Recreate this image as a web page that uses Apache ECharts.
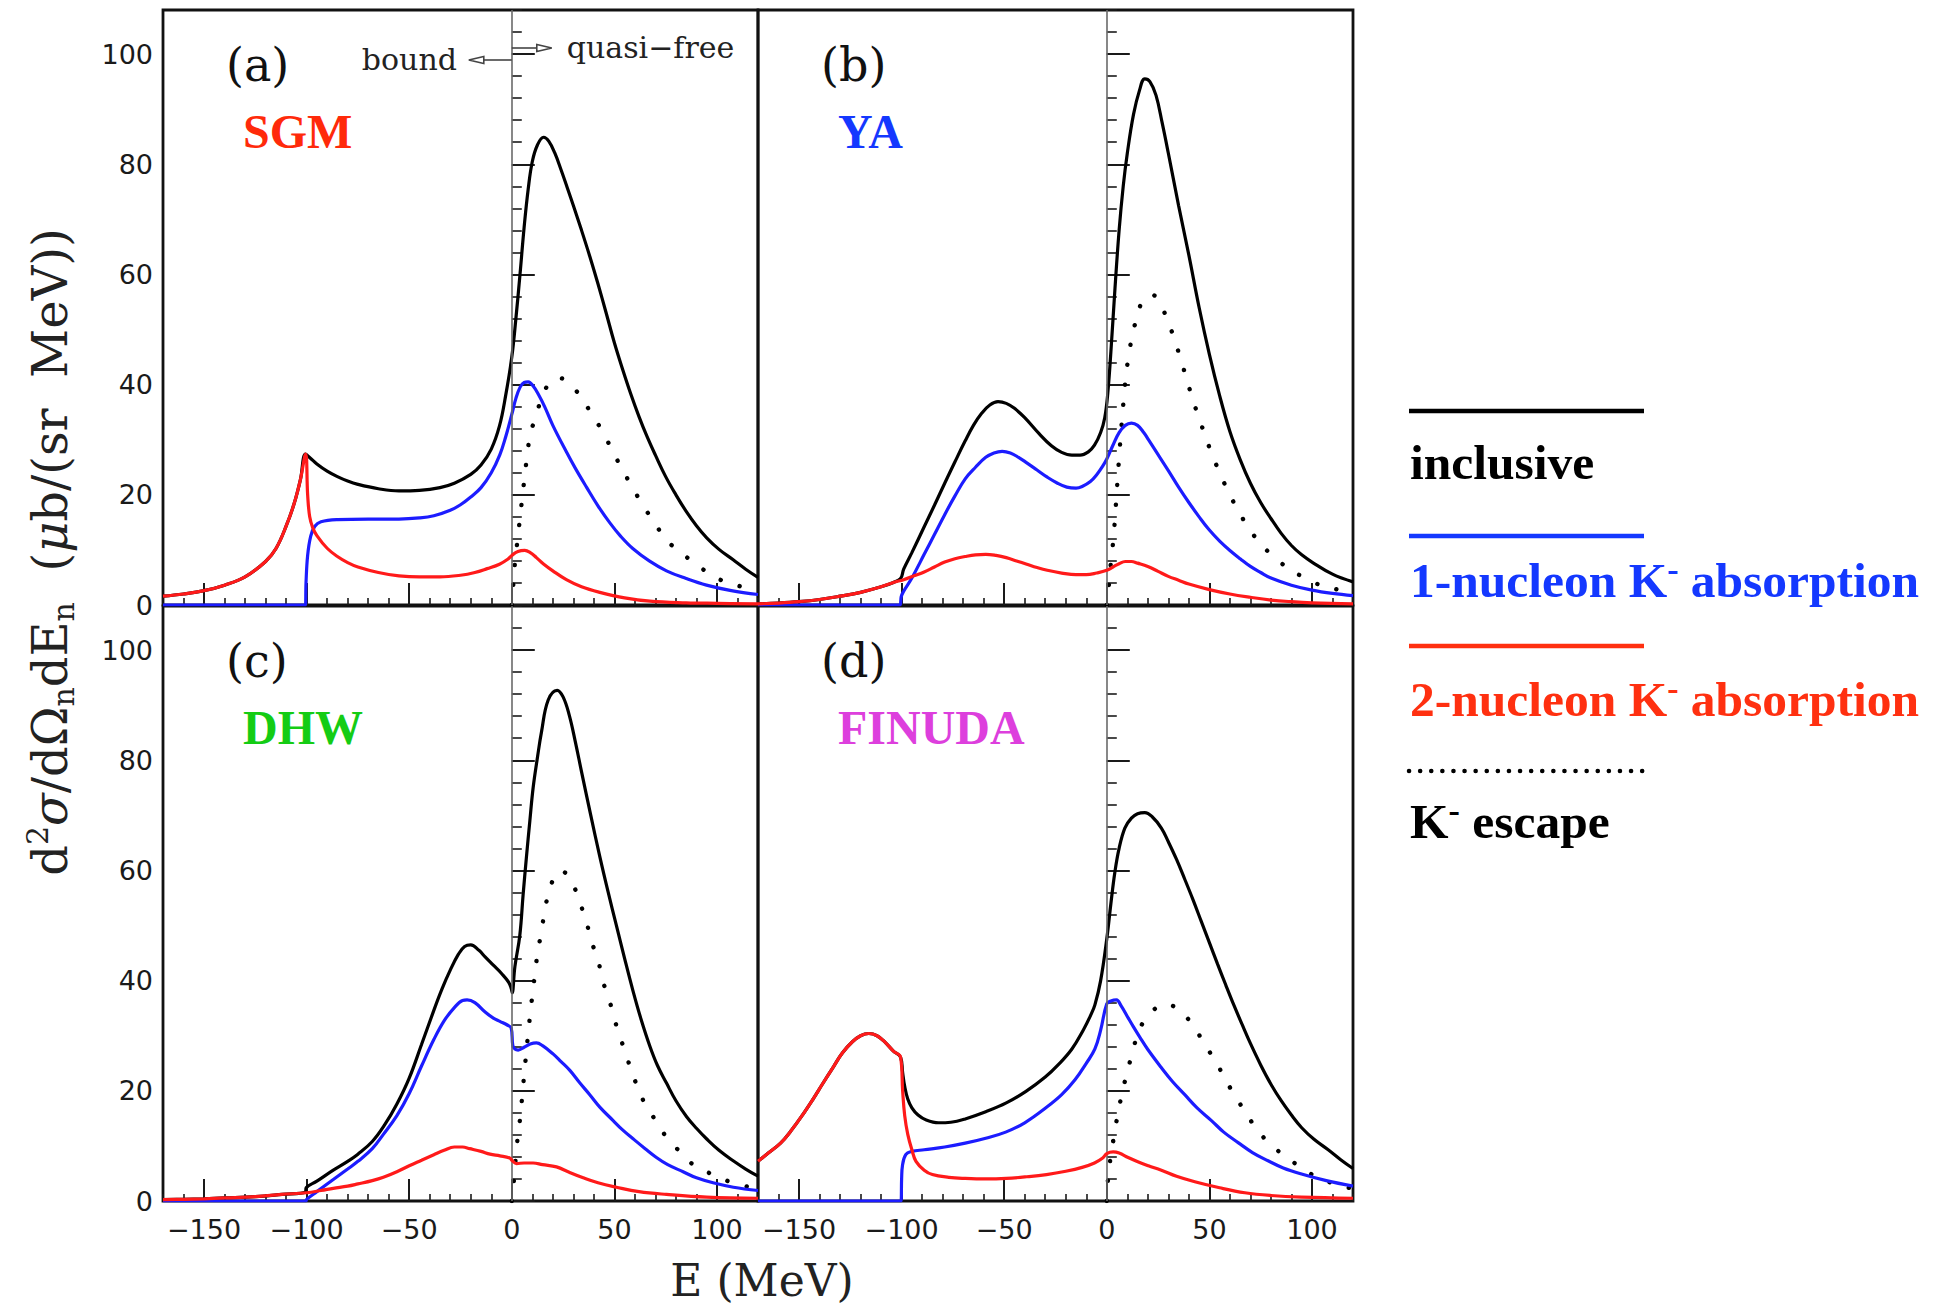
<!DOCTYPE html>
<html>
<head>
<meta charset="utf-8">
<title>Neutron spectra from K- absorption</title>
<script src="https://cdn.jsdelivr.net/npm/echarts@6.0.0/dist/echarts.min.js"></script>
<style>
  html, body { margin: 0; padding: 0; background: #fff; }
  #chart { width: 1943px; height: 1308px; }
</style>
</head>
<body>
<div id="chart"></div>
<script>
// axis ranges and ticks
const xMin = -170, xMax = 120;
const yMin = 0, yMax = 108;
const xTickLabels = [-150, -100, -50, 0, 50, 100];
const yTickLabels = [0, 20, 40, 60, 80, 100];

const panelTags = ['(a)', '(b)', '(c)', '(d)'];
const modelNames = ['SGM', 'YA', 'DHW', 'FINUDA'];
const modelColors = ['#ff2a0a', '#1438ff', '#14cc14', '#dd3fdd'];
const curveNames = ['inclusive', '1-nucleon K- absorption', '2-nucleon K- absorption', 'K- escape'];

// (a) SGM  -- [E (MeV), d2sigma/dOmega dE]
const aIncl = [[-170,1.6],[-160,2.0],[-150,2.6],[-140,3.6],[-130,5.1],[-120,7.9],[-115,10.2],[-110,14.3],[-106,18.5],[-103,22.8],[-100.5,27.4],[-98,26.6],[-95,25.6],[-90,24.3],[-85,23.3],[-80,22.5],[-75,21.9],[-65,21.1],[-55,20.7],[-45,20.8],[-35,21.3],[-28,22.1],[-20,23.7],[-15,25.4],[-10,28.3],[-6,32.5],[-3,38],[0,45],[2,52],[4,60],[6,68.5],[8,75.5],[10,80.5],[12.5,83.5],[15.5,84.9],[18,84.2],[21,82],[24,79],[27,75.8],[30,72.5],[34,68],[38,63.3],[42,58.3],[46,53],[50,47.6],[54,42.8],[58,38.3],[62,34.2],[66,30.5],[70,27.2],[75,23.3],[80,20],[85,17],[90,14.4],[95,12.2],[101,10.1],[107.9,8.2],[114,6.5],[120,5]];
const aOne = [[-170,0],[-100.6,0],[-100.3,4],[-99.5,9],[-98,12.5],[-96,14.3],[-93,15.1],[-85,15.5],[-70,15.6],[-55,15.6],[-45,15.8],[-38,16.2],[-30,17.2],[-25,18.2],[-20,19.6],[-15,21.3],[-10,24],[-5.8,27.3],[-3,30.5],[0,34.6],[2,37.5],[4,39.5],[6,40.4],[8,40.5],[10.5,39.7],[13,38.2],[16,36],[20,32.6],[26.6,27.8],[31,24.8],[36.4,21.4],[42,18],[47.8,14.9],[53,12.5],[59.1,10.2],[67,8],[75.4,6.2],[85,4.8],[94.9,3.6],[107,2.6],[120,1.9]];
const aTwo = [[-170,1.6],[-160,2.0],[-150,2.6],[-140,3.6],[-130,5.1],[-120,7.9],[-115,10.2],[-110,14.3],[-106,18.5],[-103,22.8],[-100.5,27.4],[-99.5,20],[-98.5,16],[-97,14],[-95,12.6],[-90,10.3],[-85,8.8],[-80,7.7],[-75,6.9],[-65,5.9],[-55,5.3],[-45,5.1],[-35,5.1],[-25,5.4],[-18,5.9],[-12,6.6],[-6,7.4],[-2,8.3],[0,9],[3,9.7],[6.3,9.9],[9,9.5],[12,8.6],[15.3,7.5],[20,6.2],[26.6,4.6],[34,3.3],[42.9,2.3],[55,1.3],[67.3,0.7],[85,0.4],[100,0.3],[120,0.2]];
const aEsc = [[0,0],[0.5,2.5],[1.5,7.5],[2.7,11.5],[3.9,15.5],[5.1,19.5],[6.3,23.4],[7.5,27.2],[8.8,30.6],[10.4,32.8],[12,34.6],[14.5,37.6],[17,39.6],[19.3,40.8],[23,41.2],[27.5,40.5],[30.5,39.3],[33.9,37.6],[39.6,34.3],[44.5,31.3],[49.4,27.7],[54.2,24.4],[59.1,21.1],[64,18.1],[69.7,14.8],[76.2,11.5],[83.5,9.2],[91.6,6.9],[99.8,4.9],[109.5,3.6],[120,2.5]];

// (b) YA
const bIncl = [[-170,0.2],[-160,0.35],[-150,0.6],[-140,1.0],[-130,1.6],[-120,2.3],[-110,3.3],[-104,4.1],[-100.5,4.8],[-99,6.5],[-95,9.5],[-89,14.2],[-84,18.1],[-79,22.1],[-74,26],[-69,29.8],[-65,32.6],[-61,34.8],[-57,36.3],[-53,36.9],[-49,36.6],[-45,35.7],[-40,34],[-33,31.1],[-27,28.9],[-22,27.7],[-17,27.2],[-13,27.2],[-9,27.8],[-6,29],[-3,31.3],[-1,34],[0.5,38.5],[2,46],[4,57.5],[6,68],[8,76],[10,82],[13,89],[16,93.5],[18.5,95.5],[21,95],[24,92.5],[27,87.5],[30,82],[35,72.5],[40,63.5],[45,54],[50,45.5],[55,38],[60,31.5],[65,26.4],[70,22.1],[75,18.6],[80,15.7],[85,13],[90,10.8],[95,9.1],[100,7.8],[110,5.6],[120,4.2]];
const bOne = [[-170,0],[-100.8,0],[-100.2,1.5],[-99,2.5],[-95,4.9],[-89,9.2],[-84,12.8],[-79,16.4],[-74,19.8],[-69,22.9],[-64,25],[-59,26.8],[-55,27.6],[-51,27.9],[-47,27.6],[-43,26.8],[-39,25.8],[-34,24.5],[-29,23.2],[-24,22.1],[-19.5,21.4],[-15,21.2],[-12,21.5],[-8,22.4],[-5,23.6],[-2,25.2],[0,26.5],[3,29],[6,31.3],[9,32.6],[12,33],[15,32.6],[18,31.3],[20.3,30],[25,27.3],[30,24.4],[35,21.4],[40,18.6],[45,16],[50,13.6],[55,11.6],[60,9.9],[65,8.4],[70,7],[75,5.9],[80,4.9],[90,3.6],[100,2.7],[110,2.1],[120,1.7]];
const bTwo = [[-170,0.2],[-160,0.35],[-150,0.6],[-140,1.0],[-130,1.6],[-120,2.3],[-110,3.3],[-104,4.1],[-99,4.6],[-94,5.3],[-89,6],[-84,6.9],[-79,7.8],[-74,8.4],[-69,8.8],[-64,9.1],[-59,9.2],[-54,9.0],[-49,8.6],[-44,8.0],[-39,7.4],[-34,6.8],[-29,6.3],[-22,5.8],[-15,5.5],[-10,5.5],[-5,5.8],[0,6.3],[3,6.9],[6,7.5],[9,7.9],[12,7.9],[15,7.6],[20,7],[25,6.1],[30,5.2],[35,4.5],[40,3.8],[50,2.8],[60,2],[70,1.4],[80,0.9],[90,0.6],[100,0.4],[120,0.2]];
const bEsc = [[0,0],[0.8,2.5],[1.4,5.6],[2.4,9],[3.4,12.8],[4.4,18],[5.4,23.6],[6.4,28.8],[7.4,33.6],[8.4,38],[9.3,41.6],[10.8,45.5],[12.3,48.7],[14.5,52],[17.3,55.2],[20,56.2],[22.3,56.3],[25,55.2],[28.2,53],[32,49.3],[36.2,44.4],[42,37.2],[46,32.8],[50,28.6],[55,24],[60,20],[65,16.5],[70,13.5],[75,11.1],[80,9.2],[85,7.6],[90,6.3],[95,5.2],[100,4.2],[107,3.3],[114,2.7],[120,2.3]];

// (c) DHW
const cIncl = [[-170,0.25],[-160,0.3],[-150,0.4],[-140,0.55],[-125,0.8],[-112,1.2],[-100.6,1.6],[-100.2,2.4],[-95,3.6],[-87,5.6],[-80,7.2],[-75,8.5],[-68,10.8],[-62,13.8],[-56,17.6],[-50,22.3],[-44,28.4],[-38,34.6],[-34,38.5],[-30,41.9],[-26,44.8],[-23,46.2],[-20,46.5],[-16,45.5],[-13,44.3],[-9,42.8],[-5,41.3],[-1.5,39.7],[-0.2,38.5],[0.2,37.8],[1.5,42.5],[3.9,48.2],[5.5,55.5],[7.1,62.3],[8.8,69],[10.4,75],[12.5,80.5],[14.5,85.2],[17.7,90.9],[22.1,92.7],[25,91.5],[28,88.2],[31,83.3],[34,77.9],[38.5,70],[42.9,62.5],[47,56],[51,50],[55,44],[59.1,38.1],[63,33],[67.3,28.1],[71,24.6],[75.4,21.4],[80,18.2],[85.2,15.3],[90,13.2],[94.9,11.3],[101,9.2],[107.9,7.3],[114,5.8],[120,4.5]];
const cOne = [[-170,0],[-100.4,0],[-100,0.3],[-95,1.7],[-87,3.9],[-80,5.8],[-75,7.2],[-68,9.5],[-62.6,12.1],[-56,15.5],[-50,19.5],[-44,24.5],[-38,29.3],[-33,32.7],[-28,35.1],[-24,36.4],[-21.8,36.5],[-18,36],[-13,34.3],[-9,33.2],[-5.8,32.6],[-2,31.9],[-0.3,31.4],[0.5,28.2],[1.5,27.6],[3.1,27.4],[6,27.9],[9,28.5],[12,28.7],[15,28.2],[20.1,26.7],[24,25.3],[28.3,23.7],[33,21.5],[38,19.3],[43,17],[49.4,14.6],[54,12.9],[59.1,11.3],[65,9.5],[70.5,7.9],[76,6.6],[83.5,5.3],[90,4.2],[98.1,3.3],[108,2.5],[120,1.9]];
const cTwo = [[-170,0.25],[-160,0.3],[-150,0.4],[-140,0.55],[-125,0.8],[-112,1.2],[-100,1.5],[-93,1.9],[-87,2.3],[-80,2.7],[-75,3.1],[-68,3.7],[-62.6,4.3],[-56,5.3],[-50,6.4],[-44,7.4],[-38,8.4],[-33,9.2],[-28,9.8],[-24,9.8],[-20.5,9.5],[-15,9.0],[-10.6,8.5],[-5.8,8.2],[-1,7.8],[0.3,7.3],[2.3,6.8],[6,6.9],[10.4,6.9],[15,6.6],[21.8,6.2],[28,5.2],[34.8,4.2],[42,3.3],[51,2.5],[62,1.7],[75.4,1.2],[95,0.7],[120,0.5]];
const cEsc = [[0,0],[0.5,1.5],[1.3,5],[2.3,9.5],[3.2,12.5],[4.2,15.5],[5.3,20],[6.3,24],[8,30.5],[9.6,36],[11.2,41],[12.8,45.6],[14.5,48.9],[16.1,52.9],[18.5,56.6],[20.5,58.6],[22.9,59.9],[26,59.6],[29.1,58],[31,56.5],[33.1,54.3],[36.4,50.6],[38.8,47.2],[42.1,43.6],[44.5,39.8],[47.8,36.1],[50.2,32.8],[53.4,29.1],[56.7,25.4],[59.9,22],[64,18.3],[68.9,15.3],[74.6,12],[81,9.3],[88.4,6.6],[97.3,4.9],[106.2,3.5],[116,2.5],[120,2.2]];

// (d) FINUDA
const dIncl = [[-170,7.2],[-165,8.7],[-159,10.5],[-154,12.7],[-148.7,15.4],[-143,18.6],[-138.8,21.1],[-133,24.5],[-128.8,26.9],[-124,28.9],[-120,30],[-116,30.4],[-112,30],[-108,28.8],[-104,27.2],[-100.5,26.1],[-99.5,23.3],[-98.5,20.8],[-97,18.5],[-95,16.9],[-92,15.6],[-88,14.7],[-82,14.2],[-76,14.3],[-69,14.9],[-59,16.2],[-49,17.8],[-39.4,19.9],[-30,22.5],[-23.5,24.8],[-17,27.6],[-11.5,31],[-8,33.6],[-5.8,35.6],[-3,40],[0,47.6],[2,54],[3.9,59.6],[6,64],[8.8,67.7],[12,69.5],[15,70.3],[18.5,70.5],[22,69.8],[26.6,67.7],[30,65.2],[34,62],[38,58.4],[42,54.7],[46,50.8],[50,46.9],[54,43],[58,39.2],[62,35.5],[66,32],[70,28.6],[75,24.7],[80,21.2],[85,18.2],[90,15.6],[95,13.3],[101,11.2],[107.9,9.3],[114,7.5],[120,5.9]];
const dOne = [[-170,0],[-100.3,0],[-100,4],[-99.6,6.4],[-98,8.4],[-95,9],[-89,9.3],[-79,9.8],[-69,10.5],[-59,11.4],[-49.3,12.5],[-40,14.2],[-29.4,17],[-22,19.3],[-15.5,22],[-10,25],[-5.8,27.6],[-3,31],[0,35.8],[2,36.3],[4.7,36.5],[7,35.4],[10,33.5],[13,31.6],[16,29.8],[20,27.5],[26.6,24.2],[32,21.7],[38,19.3],[44,16.9],[51,14.6],[57,12.5],[64,10.6],[71,8.8],[78.6,7.3],[86,6],[94.9,4.9],[107,3.7],[120,2.7]];
const dTwo = [[-170,7.2],[-165,8.7],[-159,10.5],[-154,12.7],[-148.7,15.4],[-143,18.6],[-138.8,21.1],[-133,24.5],[-128.8,26.9],[-124,28.9],[-120,30],[-116,30.4],[-112,30],[-108,28.8],[-104,27.2],[-100.5,26.1],[-99.5,20],[-98.5,15.5],[-97,12.1],[-95,9.3],[-93,7.2],[-89,5.6],[-85,4.8],[-77,4.3],[-69,4.1],[-59,4.0],[-49,4.1],[-39,4.4],[-29.4,4.8],[-20,5.4],[-12,6.1],[-6,6.9],[-2,7.8],[0,8.6],[3.1,8.9],[6,8.7],[10.4,7.9],[16,7],[20.3,6.4],[26.6,5.6],[34,4.5],[42.9,3.5],[55,2.4],[67.3,1.5],[80,1.0],[95,0.7],[120,0.5]];
const dEsc = [[0,0],[0.6,4],[1.8,7.8],[3.2,11],[4.5,14],[6,17],[8,20.5],[10.4,24],[12.8,27.5],[15.3,30.5],[17.5,32.3],[20.1,33.6],[23.5,34.9],[27.5,35.8],[31,35.6],[36.4,34.4],[39.5,33.1],[42.9,31.4],[47.8,28.4],[53.4,25.1],[58.3,21.7],[63.2,18.7],[68.9,15.3],[74.6,12.3],[81.9,9.6],[90,7.3],[98.1,5.2],[107.9,3.5],[116.8,2.5],[120,2.2]];

const inclusive = [aIncl, bIncl, cIncl, dIncl];
const oneNucleon = [aOne, bOne, cOne, dOne];
const twoNucleon = [aTwo, bTwo, cTwo, dTwo];
const escape = [aEsc, bEsc, cEsc, dEsc];

// panel boxes (left, top), all square
const boxSize = 595;
const boxes = [[163, 10], [758, 10], [163, 606], [758, 606]];

const tickColor = '#1a1a1a';
const minusFmt = v => (v < 0 ? '\u2212' + Math.abs(v) : String(v));

const grids = [], xAxes = [], yAxes = [], series = [];

boxes.forEach((b, i) => {
    const bottomRow = i >= 2;
    const leftCol = i % 2 === 0;
    grids.push({
        left: b[0], top: b[1], width: boxSize, height: boxSize,
        show: true, borderColor: '#111', borderWidth: 2.8,
        backgroundColor: 'transparent', containLabel: false, outerBoundsMode: 'none'
    });

    // minor ticks + labels
    xAxes.push({
        gridIndex: i, type: 'value', position: 'bottom',
        min: xMin, max: xMax, interval: 10,
        axisLine: { show: false }, splitLine: { show: false },
        axisTick: { inside: true, length: 7, lineStyle: { color: tickColor, width: 1.6 } },
        axisLabel: {
            show: bottomRow, customValues: xTickLabels, formatter: minusFmt,
            margin: 15, fontSize: 27, fontFamily: 'DejaVu Sans', color: tickColor
        }
    });
    // major ticks
    xAxes.push({
        gridIndex: i, type: 'value', position: 'bottom',
        min: xMin, max: xMax,
        axisLine: { show: false }, splitLine: { show: false }, axisLabel: { show: false },
        axisTick: { inside: true, length: 22, customValues: xTickLabels, lineStyle: { color: tickColor, width: 2 } }
    });

    yAxes.push({
        gridIndex: i, type: 'value', position: 'left',
        min: yMin, max: yMax, interval: 4,
        axisLine: { show: false }, splitLine: { show: false },
        axisTick: { inside: true, length: 10, lineStyle: { color: tickColor, width: 1.6 } },
        axisLabel: {
            show: leftCol, customValues: yTickLabels,
            margin: 10, fontSize: 27, fontFamily: 'DejaVu Sans', color: tickColor
        }
    });
    yAxes.push({
        gridIndex: i, type: 'value', position: 'left',
        min: yMin, max: yMax,
        axisLine: { show: false }, splitLine: { show: false }, axisLabel: { show: false },
        axisTick: { inside: true, length: 23, customValues: yTickLabels, lineStyle: { color: tickColor, width: 2 } }
    });

    const common = {
        type: 'line', xAxisIndex: 2 * i, yAxisIndex: 2 * i,
        symbol: 'none', showSymbol: false, smooth: 0.4, silent: true
    };
    series.push(Object.assign({}, common, {
        name: curveNames[0], data: inclusive[i], z: 3,
        itemStyle: { color: '#000' }, lineStyle: { color: '#000', width: 3.2 },
        markLine: {
            silent: true, symbol: 'none', label: { show: false },
            lineStyle: { color: '#6a6a6a', width: 1.6, type: 'solid' },
            data: [{ xAxis: 0 }]
        }
    }));
    series.push(Object.assign({}, common, {
        name: curveNames[3], data: escape[i], z: 3,
        itemStyle: { color: '#000' },
        lineStyle: { color: '#000', width: 4.4, type: [0.1, 20], cap: 'round' }
    }));
    series.push(Object.assign({}, common, {
        name: curveNames[1], data: oneNucleon[i], z: 4,
        itemStyle: { color: '#1c1cff' }, lineStyle: { color: '#1c1cff', width: 3.2 }
    }));
    series.push(Object.assign({}, common, {
        name: curveNames[2], data: twoNucleon[i], z: 5,
        itemStyle: { color: '#ff1a1a' }, lineStyle: { color: '#ff1a1a', width: 3.2 }
    }));
});

// text annotations
const graphics = [];
const serif = '"DejaVu Serif"';
const times = '"Liberation Serif"';
function txt(x, y, text, font, fill, align, extra) {
    return Object.assign({
        type: 'text', x: x, y: y, z: 100, silent: true,
        style: {
            text: text, font: font, fill: fill,
            align: align || 'left', textAlign: align || 'left',
            verticalAlign: 'middle', textVerticalAlign: 'middle'
        }
    }, extra || {});
}

boxes.forEach((b, i) => {
    graphics.push(txt(b[0] + 63, b[1] + 55, panelTags[i], '46px ' + serif, '#111'));
    graphics.push(txt(b[0] + 80, b[1] + 121, modelNames[i], 'bold 48px ' + times, modelColors[i]));
});

// bound <- | -> quasi-free in panel (a)
const x0 = boxes[0][0] + (0 - xMin) / (xMax - xMin) * boxSize;
const arrowStyle = { stroke: '#444', lineWidth: 1.6, fill: '#fff' };
graphics.push(txt(x0 - 150, 59, 'bound', '30px ' + serif, '#222'));
graphics.push({ type: 'line', z: 100, silent: true, shape: { x1: x0, y1: 60, x2: x0 - 30, y2: 60 }, style: arrowStyle });
graphics.push({ type: 'polygon', z: 100, silent: true, shape: { points: [[x0 - 43, 60], [x0 - 28, 56.5], [x0 - 28, 63.5]] }, style: arrowStyle });
graphics.push({ type: 'line', z: 100, silent: true, shape: { x1: x0, y1: 48, x2: x0 + 27, y2: 48 }, style: arrowStyle });
graphics.push({ type: 'polygon', z: 100, silent: true, shape: { points: [[x0 + 40, 48], [x0 + 25, 44.5], [x0 + 25, 51.5]] }, style: arrowStyle });
graphics.push(txt(x0 + 55, 47, 'quasi\u2212free', '30px ' + serif, '#222'));

// axis titles
graphics.push(txt(762, 1280, 'E (MeV)', '44px ' + serif, '#222', 'center'));
graphics.push({
    type: 'text', x: 50, y: 552, rotation: Math.PI / 2, z: 100, silent: true,
    style: {
        text: 'd{sup|2}{it|\u03c3}/d\u03a9{sub|n}dE{sub|n}  ({it|\u03bc}b/(sr  MeV))',
        font: '48px ' + serif, fill: '#222', lineHeight: 56,
        align: 'center', textAlign: 'center', verticalAlign: 'middle', textVerticalAlign: 'middle',
        rich: {
            sup: { font: '30px ' + serif, fill: '#222', lineHeight: 30, verticalAlign: 'top' },
            sub: { font: '30px ' + serif, fill: '#222', lineHeight: 30, verticalAlign: 'bottom' },
            it: { font: 'italic 48px ' + serif, fill: '#222', lineHeight: 56 }
        }
    }
});

// legend on the right
const legX1 = 1409, legX2 = 1644;
const legColors = ['#000', '#1438ff', '#ff3010', '#000'];
const legLineY = [411, 536, 646, 771];
const legTextY = [462, 580, 699, 821];
const legTexts = ['inclusive', '1-nucleon K{sup|-} absorption', '2-nucleon K{sup|-} absorption', 'K{sup|-} escape'];
legTexts.forEach((t, k) => {
    const dotted = k === 3;
    graphics.push({
        type: 'line', z: 100, silent: true,
        shape: { x1: legX1, y1: legLineY[k], x2: legX2, y2: legLineY[k] },
        style: dotted
            ? { stroke: legColors[k], lineWidth: 4.5, lineDash: [0.1, 11], lineCap: 'round' }
            : { stroke: legColors[k], lineWidth: 4.5 }
    });
    graphics.push({
        type: 'text', x: 1410, y: legTextY[k], z: 100, silent: true,
        style: {
            text: t, font: 'bold 49.5px ' + times, fill: legColors[k], lineHeight: 56,
            align: 'left', textAlign: 'left', verticalAlign: 'middle', textVerticalAlign: 'middle',
            rich: {
                sup: { font: 'bold 34px ' + times, fill: legColors[k], lineHeight: 26, verticalAlign: 'top' }
            }
        }
    });
});

const chart = echarts.init(document.getElementById('chart'), null, { renderer: 'svg' });
chart.setOption({
    backgroundColor: '#fff',
    animation: false,
    grid: grids,
    xAxis: xAxes,
    yAxis: yAxes,
    series: series,
    graphic: { elements: graphics }
});
</script>
</body>
</html>
